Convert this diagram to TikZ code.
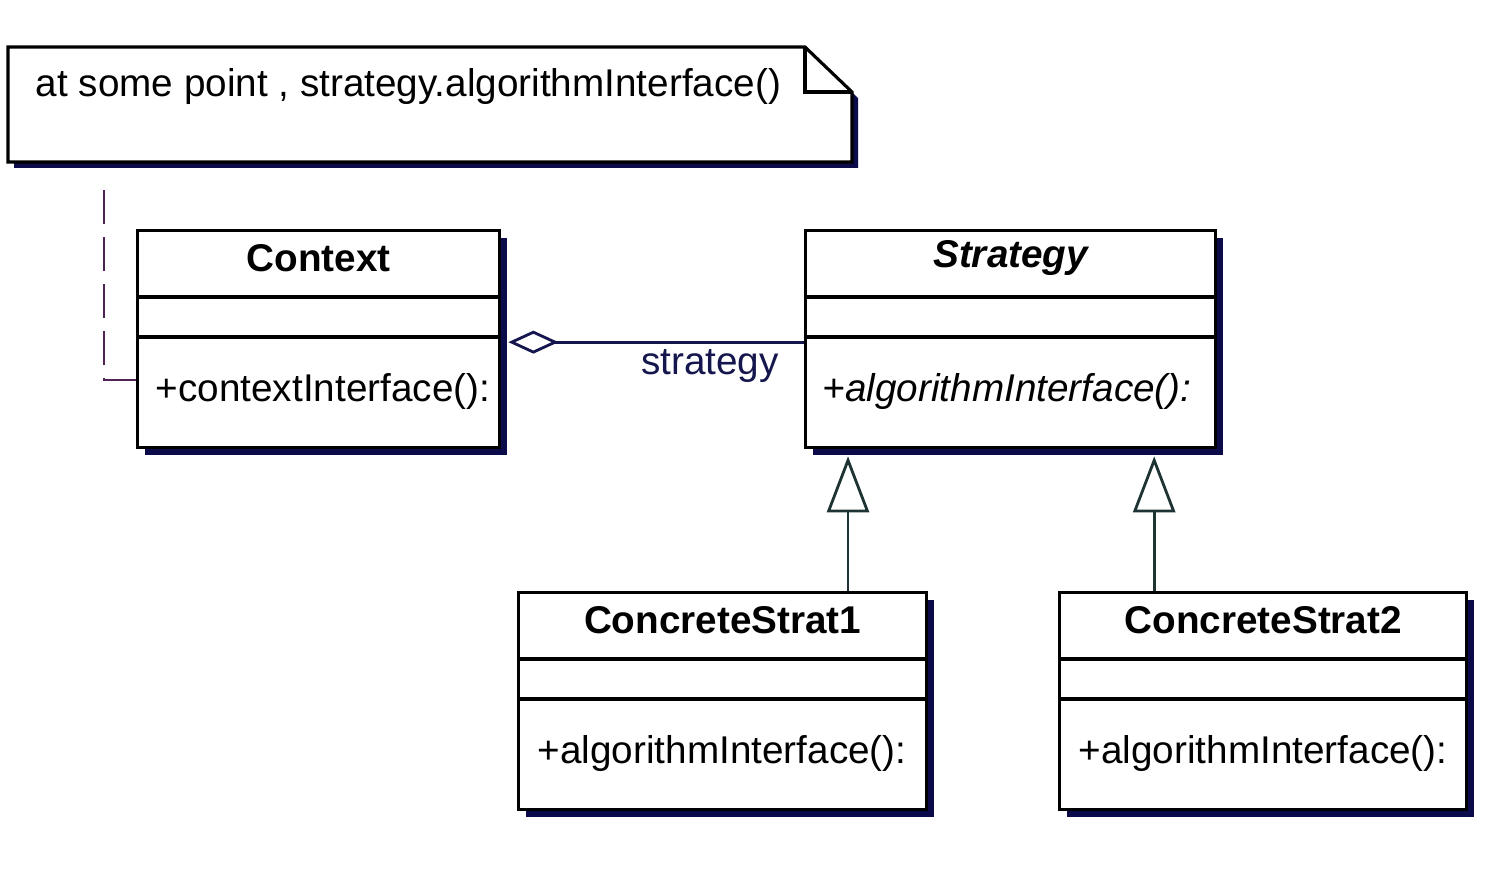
\documentclass[tikz,border=0pt]{standalone}
\usepackage{fontspec}
\setmainfont{Liberation Sans}
\usepackage{xcolor}
\usepackage{tikz}
\usetikzlibrary{arrows.meta, positioning, calc, shadows}

\definecolor{umlshadow}{HTML}{0B0B4C}
\definecolor{aggline}{HTML}{16164E}
\definecolor{genline}{HTML}{1E3434}
\definecolor{notepurple}{HTML}{4E2452}

\begin{document}
\begin{tikzpicture}[x=0.01cm, y=-0.01cm,
    classbox/.style={draw, fill=white, line width=0.9pt, anchor=north west, inner sep=0pt,
        minimum height=2.17cm,
        drop shadow={shadow xshift=0.07cm, shadow yshift=-0.07cm, fill=umlshadow, opacity=1}},
    classtitle/.style={font=\fontsize{11}{13}\selectfont\bfseries, inner sep=0pt},
    classop/.style={font=\fontsize{11}{13}\selectfont, anchor=west, inner sep=0pt},
    notetext/.style={font=\fontsize{11}{13}\selectfont, anchor=west, inner sep=0pt},
    rolelabel/.style={font=\fontsize{11}{13}\selectfont, text=aggline, inner sep=0pt},
    aggr/.style={{Diamond[open, length=0.5cm, width=0.23cm]}-, aggline, line width=0.8pt, shorten <=0.07cm},
    inherit/.style={-{Triangle[open, length=0.56cm, width=0.42cm]}, genline, line width=0.8pt, shorten >=0.07cm},
    notelink/.style={notepurple, line width=0.8pt, dash pattern=on 0.34cm off 0.13cm}]
    % 背景
    \fill[white] (0,0) rectangle (1490,876);

    % 注释框
    \fill[umlshadow] (14,53) -- (811,53) -- (858,98) -- (858,168) -- (14,168) -- cycle;
    \filldraw[fill=white, line width=0.9pt] (8,47) -- (805,47) -- (852,92) -- (852,162) -- (8,162) -- cycle;
    \draw[line width=0.9pt] (805,47) |- (852,92);
    \node[notetext] (note) at (35,86) {at some point , strategy.algorithmInterface()};
    \coordinate (notefoot) at (104,182);

    % 类
    \node[classbox, minimum width=3.62cm] (context) at (136,229) {};
    \node[classbox, minimum width=4.10cm] (strategy) at (804,229) {};
    \node[classbox, minimum width=4.08cm] (cs1) at (517,591) {};
    \node[classbox, minimum width=4.07cm] (cs2) at (1058,591) {};

    % 分隔线
    \foreach \c in {context, strategy, cs1, cs2} {
        \draw[line width=0.9pt] ([yshift=-0.68cm]\c.north west) -- ([yshift=-0.68cm]\c.north east);
        \draw[line width=0.9pt] ([yshift=-1.08cm]\c.north west) -- ([yshift=-1.08cm]\c.north east);
    }

    % 类名
    \node[classtitle] (contextname) at ([yshift=-0.29cm]context.north) {Context};
    \node[classtitle] (strategyname) at ([yshift=-0.29cm]strategy.north) {\itshape Strategy};
    \node[classtitle] (cs1name) at ([yshift=-0.29cm]cs1.north) {ConcreteStrat1};
    \node[classtitle] (cs2name) at ([yshift=-0.29cm]cs2.north) {ConcreteStrat2};

    % 操作
    \node[classop] (contextop) at ([xshift=0.19cm, yshift=-1.62cm]context.north west) {+contextInterface():};
    \node[classop] (strategyop) at ([xshift=0.18cm, yshift=-1.62cm]strategy.north west) {\itshape +algorithmInterface():};
    \node[classop] (cs1op) at ([xshift=0.20cm, yshift=-1.62cm]cs1.north west) {+algorithmInterface():};
    \node[classop] (cs2op) at ([xshift=0.20cm, yshift=-1.62cm]cs2.north west) {+algorithmInterface():};

    % 聚合
    \draw[aggr] ([yshift=-0.03cm]context.east) -- ([yshift=-0.03cm]strategy.west);
    \node[rolelabel] (role) at (710,366) {strategy};

    % 继承
    \coordinate (gen1) at ([xshift=0.44cm]strategy.south west);
    \coordinate (gen2) at ([xshift=3.50cm]strategy.south west);
    \draw[inherit] (cs1.north -| gen1) -- (gen1);
    \draw[inherit] (cs2.north -| gen2) -- (gen2);

    % 注释连线
    \draw[notelink] ([yshift=-1.51cm]context.north west) -| (notefoot);
\end{tikzpicture}
\end{document}
